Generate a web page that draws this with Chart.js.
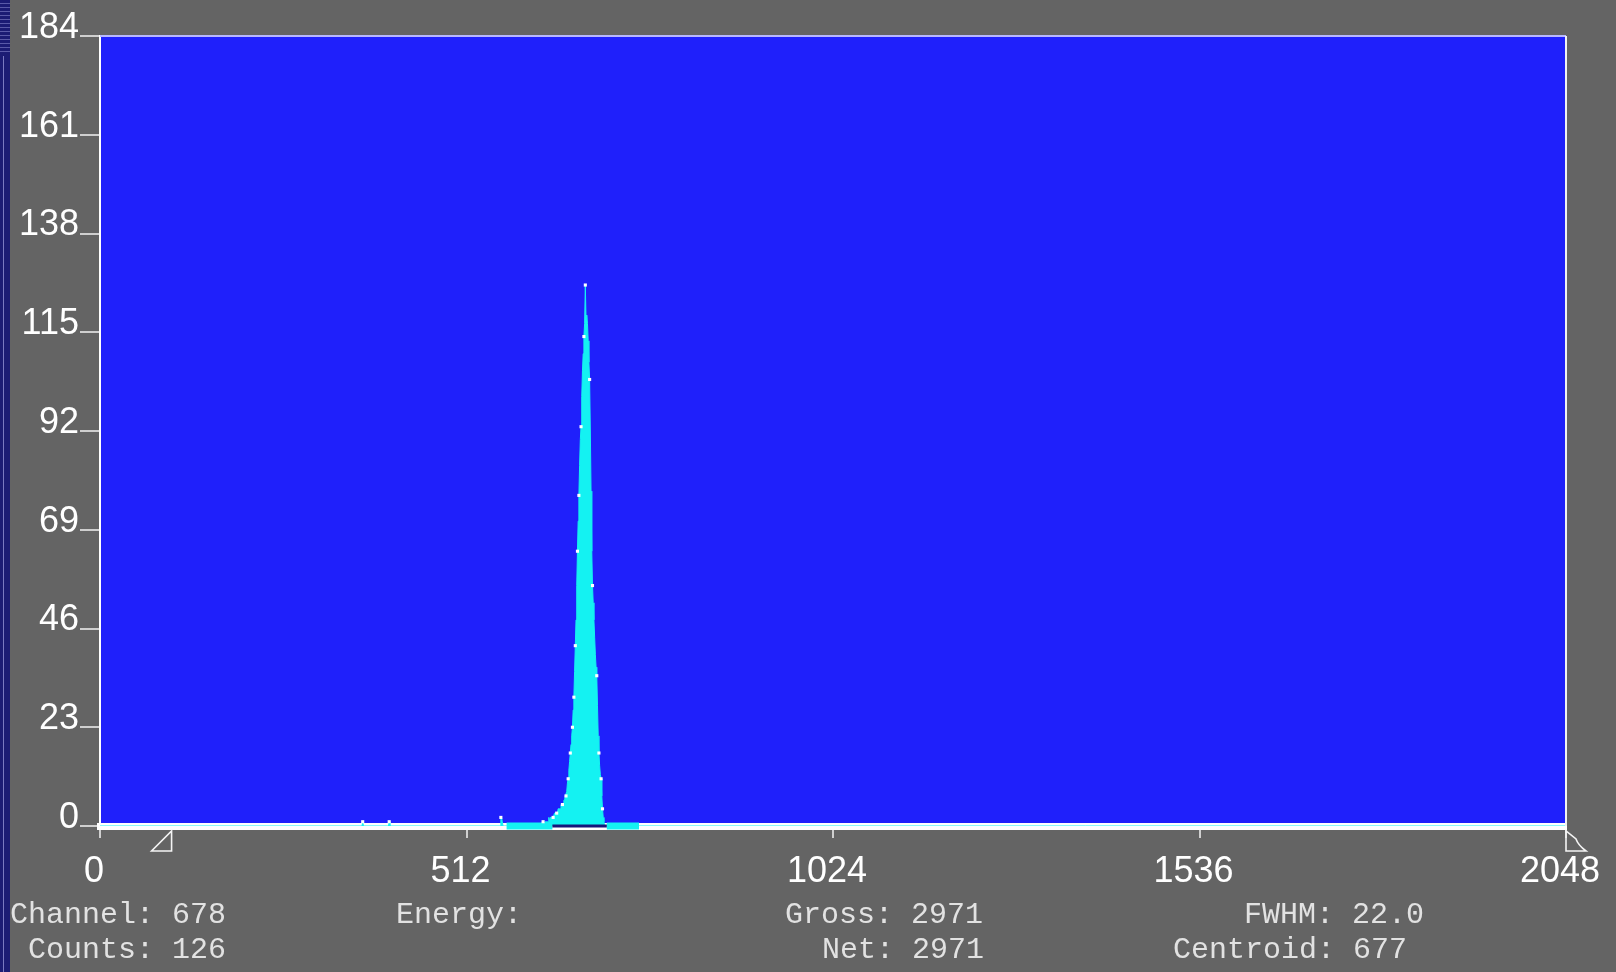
<!DOCTYPE html>
<html>
<head>
<meta charset="utf-8">
<title>MCA spectrum</title>
<script src="https://cdn.jsdelivr.net/npm/chart.js@4/dist/chart.umd.min.js"></script>
<style>
  html, body { margin: 0; padding: 0; background: #646464; }
  #wrap { position: relative; width: 1616px; height: 972px; overflow: hidden; background: #646464; }
  #strip {
    position: absolute; left: 0; top: 0; width: 10px; height: 972px;
    background:
      linear-gradient(#1c1c74, #1c1c74) 0 56px / 3px 100% no-repeat,
      linear-gradient(#7a7ac0, #7a7ac0) 3px 56px / 1px 100% no-repeat,
      repeating-linear-gradient(#1c1c74 0 3px, #5a5aa8 3px 4px) 0 0 / 10px 54px no-repeat,
      #1c1c74;
  }
  canvas { position: absolute; left: 0; top: 0; }
  .readout {
    position: absolute; white-space: pre; color: #e2e2e2;
    font-family: "Liberation Mono", "DejaVu Sans Mono", monospace;
    font-size: 30px; line-height: 1;
  }
</style>
</head>
<body>
<div id="wrap">
  <div id="strip"></div>
  <canvas id="chart" width="1616" height="972"></canvas>
</div>
<script>
// Spectrum: channel numbers and counts (channels not listed are empty)
const spectrumChannels = [
  0,
  366, 367, 368,
  403, 404, 405,
  559, 560, 561, 562, 563,
  617, 618, 619, 620, 621, 622, 623, 624, 625, 626, 627, 628, 629, 630,
  631, 632, 633, 634, 635, 636, 637, 638, 639, 640, 641, 642, 643, 644,
  645, 646, 647, 648, 649, 650, 651, 652, 653, 654, 655, 656, 657, 658,
  659, 660, 661, 662, 663, 664, 665, 666, 667, 668, 669, 670, 671, 672,
  673, 674, 675, 676, 677, 678, 679, 680, 681, 682, 683, 684, 685, 686,
  687, 688, 689, 690, 691, 692, 693, 694, 695, 696, 697, 698, 699, 700,
  701, 702, 703, 704, 705,
  2048
];
const spectrumCounts = [
  0,
  0, 1, 0,
  0, 1, 0,
  0, 2, 2, 1, 0,
  0, 1, 1, 1, 0, 1, 1, 1, 1, 1, 2, 1, 2, 2,
  2, 2, 2, 2, 3, 3, 3, 3, 3, 4, 4, 4, 4, 5,
  5, 5, 5, 6, 6, 7, 7, 8, 10, 11, 13, 15, 17, 19,
  21, 23, 27, 30, 36, 42, 48, 56, 64, 71, 77, 84, 90, 93,
  100, 106, 110, 114, 117, 126, 118, 119, 117, 113, 108, 104, 92, 78,
  64, 56, 52, 48, 44, 40, 37, 35, 28, 21, 17, 14, 12, 11,
  7, 4, 2, 1, 0,
  0
];

// Channels whose data points are highlighted with white markers
const markerChannels = [367, 404, 560, 619, 633, 638, 646, 651, 654, 657, 660, 662,
  664, 667, 669, 672, 676, 678, 684, 688, 694, 697, 700, 702];

// Regions of interest on the channel axis
const bgLeftRegion = [568, 632];
const bgRightRegion = [708, 753];
const peakRegion = [632, 708];

// Display window markers (channels)
const windowStart = 100;
const windowEnd = 2048;

// Axis ranges and ticks
const xRange = [0, 2048];
const xStep = 512;
const yRange = [0, 184];
const yStep = 23;

// Status readouts below the plot
const readoutLabels = ["Channel:", "Counts:", "Energy:", "Gross:", "Net:", "FWHM:", "Centroid:"];
const readoutValues = ["678", "126", "", "2971", "2971", "22.0", "677"];

const countOf = {};
spectrumChannels.forEach((c, i) => { countOf[c] = spectrumCounts[i]; });

const spectrumPoints = spectrumChannels.map((c, i) => ({ x: c, y: spectrumCounts[i] }));
const markerPoints = markerChannels.map(c => ({ x: c, y: countOf[c] }));
const regionLine = r => r.map(c => ({ x: c, y: 0 }));

const BLUE = '#1f20fb';
const CYAN = '#14f2f2';

const plotFrame = {
  id: 'plotFrame',
  beforeDraw(chart) {
    const { ctx, chartArea: a } = chart;
    ctx.save();
    ctx.fillStyle = BLUE;
    ctx.fillRect(a.left, a.top, a.right - a.left, a.bottom - a.top);
    ctx.restore();
  },
  afterDraw(chart) {
    const { ctx, chartArea: a, scales } = chart;
    ctx.save();
    // top and right edges of the plot frame
    ctx.strokeStyle = '#b8b8ff';
    ctx.lineWidth = 2;
    ctx.beginPath();
    ctx.moveTo(a.left, a.top);
    ctx.lineTo(a.right, a.top);
    ctx.stroke();
    ctx.strokeStyle = '#f2f2f2';
    ctx.beginPath();
    ctx.moveTo(a.right, a.top);
    ctx.lineTo(a.right, a.bottom);
    ctx.stroke();
    // display window markers under the axis
    const xs = scales.x.getPixelForValue(windowStart);
    const xe = scales.x.getPixelForValue(windowEnd);
    const top = a.bottom + 5, bot = a.bottom + 25, w = 20;
    ctx.strokeStyle = '#f4f4f4';
    ctx.lineWidth = 1.6;
    ctx.beginPath();
    ctx.moveTo(xs - w, bot); ctx.lineTo(xs, bot); ctx.lineTo(xs, top); ctx.closePath();
    ctx.stroke();
    ctx.beginPath();
    ctx.moveTo(xe, top); ctx.lineTo(xe, bot); ctx.lineTo(xe + w, bot);
    ctx.quadraticCurveTo(xe + 12, bot - 6, xe + 10, top + 8);
    ctx.closePath();
    ctx.stroke();
    ctx.restore();
  }
};

const tickFont = { family: 'Liberation Sans', size: 36 };
const plainNumber = v => String(v);

new Chart(document.getElementById('chart'), {
  type: 'line',
  data: {
    datasets: [
      {
        label: 'Counts',
        data: spectrumPoints,
        borderColor: CYAN,
        borderWidth: 1,
        backgroundColor: CYAN,
        fill: 'origin',
        pointRadius: 0,
        tension: 0,
        order: 3
      },
      {
        label: 'Background left',
        data: regionLine(bgLeftRegion),
        borderColor: CYAN,
        borderWidth: 7,
        pointRadius: 0,
        fill: false,
        clip: false,
        order: 2
      },
      {
        label: 'Background right',
        data: regionLine(bgRightRegion),
        borderColor: CYAN,
        borderWidth: 7,
        pointRadius: 0,
        fill: false,
        clip: false,
        order: 2
      },
      {
        label: 'Peak region',
        data: regionLine(peakRegion),
        borderColor: '#16167a',
        borderWidth: 3,
        pointRadius: 0,
        fill: false,
        clip: false,
        order: 1
      },
      {
        label: 'Markers',
        data: markerPoints,
        showLine: false,
        pointStyle: 'rect',
        pointRadius: 2.2,
        pointBackgroundColor: '#ffffff',
        pointBorderColor: '#ffffff',
        pointBorderWidth: 0,
        clip: false,
        order: 0
      }
    ]
  },
  options: {
    responsive: false,
    animation: false,
    events: [],
    layout: { padding: { left: 0, top: 36, right: 50, bottom: 0 } },
    plugins: { legend: { display: false }, tooltip: { enabled: false } },
    scales: {
      x: {
        type: 'linear',
        min: xRange[0], max: xRange[1],
        afterFit(s) { s.height = 146; s.paddingLeft = 0; s.paddingRight = 0; },
        grid: { drawOnChartArea: false, drawTicks: true, tickLength: 12, color: '#cfcfcf', lineWidth: 2 },
        border: { display: true, color: '#ffffff', width: 7 },
        ticks: { stepSize: xStep, callback: plainNumber, color: '#ffffff', font: tickFont, padding: 12, labelOffset: -6, maxRotation: 0, autoSkip: false }
      },
      y: {
        type: 'linear',
        min: yRange[0], max: yRange[1],
        afterFit(s) { s.width = 100; s.paddingTop = 0; s.paddingBottom = 0; },
        grid: { drawOnChartArea: false, drawTicks: true, tickLength: 20, color: '#cfcfcf', lineWidth: 2 },
        border: { display: true, color: '#ffffff', width: 2 },
        ticks: { stepSize: yStep, callback: plainNumber, color: '#ffffff', font: tickFont, padding: 1, labelOffset: -8, autoSkip: false }
      }
    }
  },
  plugins: [plotFrame]
});

// Status readouts
const readoutLayout = [
  { left: 10, top: 900 },
  { left: 28, top: 935 },
  { left: 396, top: 900 },
  { left: 785, top: 900 },
  { left: 822, top: 935 },
  { left: 1244, top: 900 },
  { left: 1173, top: 935 }
];
const wrap = document.getElementById('wrap');
readoutLabels.forEach((lab, i) => {
  const d = document.createElement('div');
  d.className = 'readout';
  const L = readoutLayout[i];
  d.style.left = L.left + 'px';
  d.style.top = L.top + 'px';
  d.textContent = readoutValues[i] ? lab + ' ' + readoutValues[i] : lab;
  wrap.appendChild(d);
});
</script>
</body>
</html>
